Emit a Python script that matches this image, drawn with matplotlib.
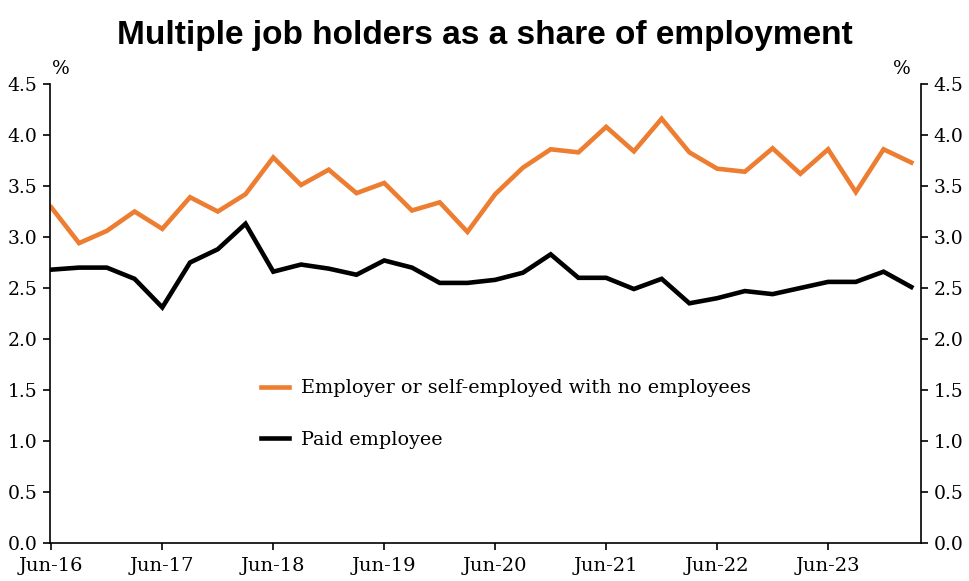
import matplotlib
matplotlib.use('Agg')
import matplotlib.pyplot as plt

quarters = ['Jun-16', 'Sep-16', 'Dec-16', 'Mar-17', 'Jun-17', 'Sep-17', 'Dec-17', 'Mar-18',
            'Jun-18', 'Sep-18', 'Dec-18', 'Mar-19', 'Jun-19', 'Sep-19', 'Dec-19', 'Mar-20',
            'Jun-20', 'Sep-20', 'Dec-20', 'Mar-21', 'Jun-21', 'Sep-21', 'Dec-21', 'Mar-22',
            'Jun-22', 'Sep-22', 'Dec-22', 'Mar-23', 'Jun-23', 'Sep-23', 'Dec-23', 'Mar-24']

self_employed = [3.29, 2.94, 3.06, 3.25, 3.08, 3.39, 3.25, 3.42,
                 3.78, 3.51, 3.66, 3.43, 3.53, 3.26, 3.34, 3.05,
                 3.42, 3.68, 3.86, 3.83, 4.08, 3.84, 4.16, 3.83,
                 3.67, 3.64, 3.87, 3.62, 3.86, 3.44, 3.86, 3.73]

paid_employee = [2.68, 2.70, 2.70, 2.59, 2.31, 2.75, 2.88, 3.13,
                 2.66, 2.73, 2.69, 2.63, 2.77, 2.70, 2.55, 2.55,
                 2.58, 2.65, 2.83, 2.60, 2.60, 2.49, 2.59, 2.35,
                 2.40, 2.47, 2.44, 2.50, 2.56, 2.56, 2.66, 2.51]

serif = 'DejaVu Serif'

fig = plt.figure(figsize=(9.7, 5.81), dpi=100)
ax = fig.add_axes([0.0515, 0.0654, 0.898, 0.790])

x = range(len(quarters))
ax.plot(x, self_employed, color='#ED7D31', lw=3.3,
        label='Employer or self-employed with no employees', solid_joinstyle='miter')
ax.plot(x, paid_employee, color='black', lw=3.3,
        label='Paid employee', solid_joinstyle='miter')

ax.set_xlim(-0.05, 31.35)
ax.set_ylim(0, 4.5)
ax.set_yticks([i * 0.5 for i in range(10)])
ax.set_yticklabels([f'{i * 0.5:.1f}' for i in range(10)])
ax.set_xticks(list(range(0, 32, 4)))
ax.set_xticklabels(quarters[::4])

ax.spines['top'].set_visible(False)
for s in ['left', 'right', 'bottom']:
    ax.spines[s].set_linewidth(1.2)
ax.tick_params(axis='y', direction='out', length=5, width=1.2, right=True,
               labelright=True, labelsize=13.5, pad=4)
ax.tick_params(axis='x', direction='out', length=5, width=1.2, labelsize=14, pad=5)
for lab in ax.get_xticklabels() + ax.get_yticklabels():
    lab.set_fontfamily(serif)

fig.text(0.063, 0.882, '%', fontsize=13.5, family=serif, ha='center', va='center')
fig.text(0.930, 0.882, '%', fontsize=13.5, family=serif, ha='center', va='center')

fig.suptitle('Multiple job holders as a share of employment', x=0.5, y=0.966,
             fontsize=24, fontweight='bold', family='Liberation Sans')

ax.legend(loc='center left', bbox_to_anchor=(0.222, 0.281), frameon=False,
          prop={'family': serif, 'size': 13.8}, handlelength=1.5, handletextpad=0.6,
          labelspacing=1.75)

fig.savefig('out.png', dpi=100)
